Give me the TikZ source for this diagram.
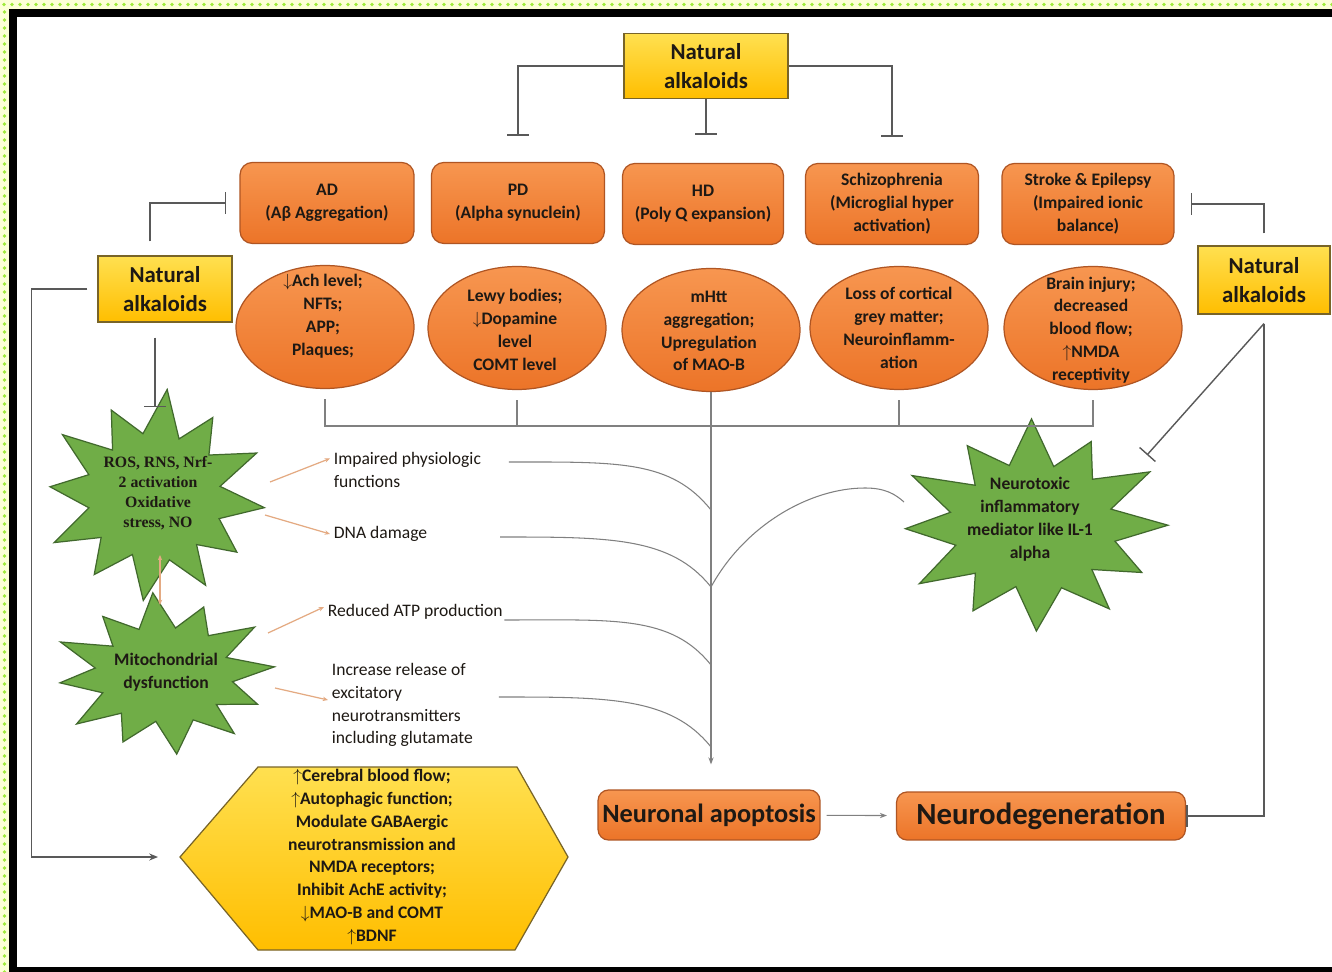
\documentclass[tikz,border=0pt]{standalone}
\usepackage{fontspec}
\setmainfont{Carlito}
\newfontfamily\timesfont{Liberation Serif}
\usetikzlibrary{arrows.meta,shapes.geometric}

\definecolor{orangefill}{RGB}{236,116,40}
\definecolor{orangelight}{RGB}{247,150,80}
\definecolor{orangeline}{RGB}{175,85,35}
\definecolor{goldfill}{RGB}{255,190,0}
\definecolor{goldlight}{RGB}{255,224,80}
\definecolor{goldline}{RGB}{120,100,40}
\definecolor{burstgreen}{RGB}{112,173,71}
\definecolor{burstline}{RGB}{65,105,45}
\definecolor{tanline}{RGB}{228,170,130}
\definecolor{textdark}{RGB}{30,25,20}
\definecolor{dotband}{RGB}{252,255,215}
\definecolor{dotgreen}{RGB}{160,235,60}

\tikzset{
  natbox/.style={draw=goldline, line width=0.7pt, top color=goldlight, bottom color=goldfill,
    align=center, font=\fontsize{13}{16.5}\selectfont\bfseries, text=textdark, inner sep=1pt},
  disbox/.style={rounded corners=7pt, draw=orangeline, line width=0.7pt, top color=orangelight,
    bottom color=orangefill, align=center, font=\fontsize{10}{13}\selectfont\bfseries,
    text=textdark, minimum height=1.62cm, inner sep=1pt},
  disell/.style={ellipse, draw=orangeline, line width=0.7pt, top color=orangelight,
    bottom color=orangefill, minimum width=3.56cm, minimum height=2.46cm, inner sep=0pt},
  elltext/.style={align=center, font=\fontsize{10}{13}\selectfont\bfseries, text=textdark},
  burstfill/.style={draw=burstline, line width=0.7pt, fill=burstgreen, line join=miter},
  bursttext/.style={align=center, font=\fontsize{10}{13}\selectfont\bfseries, text=textdark},
  effect/.style={align=left, font=\fontsize{10}{13}\selectfont, text=textdark, inner sep=2pt},
  bigbox/.style={rounded corners=6pt, draw=orangeline, line width=0.7pt, top color=orangelight,
    bottom color=orangefill, text=textdark, inner sep=1pt},
  hexfill/.style={draw=goldline, line width=0.7pt, top color=goldlight, bottom color=goldfill},
  link/.style={draw=black!65, line width=0.8pt},
  block/.style={link, -{Bar[width=12pt]}},
  thin/.style={draw=black!50, line width=0.6pt},
  tanline/.style={draw=tanline, line width=0.7pt},
  tanarrow/.style={tanline, -{Stealth[length=3pt,width=2.5pt]}},
  % twelve-spike explosion, radius about 100
  explosion/.pic={
    \draw[burstfill] (2:100) -- (16:62) -- (32:92) -- (47:60) -- (58:98) -- (74:63)
      -- (92:102) -- (106:60) -- (122:94) -- (137:63) -- (150:102) -- (166:61)
      -- (182:96) -- (196:64) -- (212:104) -- (226:60) -- (241:94) -- (256:63)
      -- (272:106) -- (287:61) -- (300:94) -- (316:64) -- (331:102) -- (346:60) -- cycle;
  },
}

\begin{document}
\begin{tikzpicture}[x=0.02cm, y=-0.02cm]
  % page with dotted edge and black frame
  \useasboundingbox (0,0) rectangle (1332,972);
  \fill[white] (0,0) rectangle (1332,972);
  \fill[dotband] (0,0) rectangle (1332,9);
  \fill[dotband] (0,0) rectangle (9,972);
  \foreach \i in {4,12,...,1332} \fill[dotgreen] (\i,4.5) circle (1.1pt);
  \foreach \j in {12,20,...,972} \fill[dotgreen] (4.5,\j) circle (1.1pt);
  \draw[line width=0.16cm] (13,13) rectangle (1350,971);

  % natural alkaloids boxes
  \node[natbox, minimum width=3.28cm, minimum height=1.3cm] (natTop) at (706,66) {Natural\\alkaloids};
  \node[natbox, minimum width=2.68cm, minimum height=1.32cm] (natLeft) at (165,289) {Natural\\alkaloids};
  \node[natbox, minimum width=2.64cm, minimum height=1.36cm] (natRight) at (1264,280) {Natural\\alkaloids};

  % disorders
  \node[disbox, minimum width=3.48cm] (ad) at (327,203) {AD\\(Aβ Aggregation)};
  \node[disbox, minimum width=3.46cm] (pd) at (518,203) {PD\\(Alpha synuclein)};
  \node[disbox, minimum width=3.22cm] (hd) at (703,204) {HD\\(Poly Q expansion)};
  \node[disbox, minimum width=3.46cm] (scz) at (892,204) {Schizophrenia\\(Microglial hyper\\activation)};
  \node[disbox, minimum width=3.44cm] (stroke) at (1088,204) {Stroke \& Epilepsy\\(Impaired ionic\\balance)};

  % pathology of each disorder
  \node[disell] (e1) at (325,327) {};
  \node[elltext] (e1t) at (323,316) {$\downarrow$Ach level;\\NFTs;\\APP;\\Plaques;};
  \node[disell] (e2) at (517,328) {};
  \node[elltext] (e2t) at (515,330) {Lewy bodies;\\$\downarrow$Dopamine\\level\\COMT level};
  \node[disell] (e3) at (711,330) {};
  \node[elltext] (e3t) at (709,331) {mHtt\\aggregation;\\Upregulation\\of MAO-B};
  \node[disell] (e4) at (899,328) {};
  \node[elltext] (e4t) at (899,328) {Loss of cortical\\grey matter;\\Neuroinflamm-\\ation};
  \node[disell] (e5) at (1093,328) {};
  \node[elltext] (e5t) at (1091,330) {Brain injury;\\decreased\\blood flow;\\$\uparrow$NMDA\\receptivity};

  % stress bursts
  \coordinate (ros) at (155,497);
  \pic[xscale=1.1, yscale=1.02, rotate=-4] at (ros) {explosion};
  \node[bursttext, font=\fontsize{9}{11.3}\selectfont\timesfont\bfseries] (rost) at (158,493) {ROS, RNS, Nrf-\\2 activation\\Oxidative\\stress, NO};
  \coordinate (mito) at (165,675);
  \pic[xscale=1.1, yscale=0.78, rotate=8] at (mito) {explosion};
  \node[bursttext] (mitot) at (166,672) {Mitochondrial\\dysfunction};
  \coordinate (neuro) at (1034,527);
  \pic[xscale=1.34, yscale=1.02, rotate=3] at (neuro) {explosion};
  \node[bursttext] (neurot) at (1030,519) {Neurotoxic\\inflammatory\\mediator like IL-1\\alpha};

  % downstream effects
  \node[effect, anchor=west] (impaired) at (330,470) {Impaired physiologic\\functions};
  \node[effect, anchor=west] (dna) at (330,534) {DNA damage};
  \node[effect, anchor=west] (atp) at (324,612) {Reduced ATP production};
  \node[effect, anchor=west] (glut) at (328,705) {Increase release of\\excitatory\\neurotransmitters\\including glutamate};

  % outcome
  \node[bigbox, minimum width=4.44cm, minimum height=1.0cm, font=\fontsize{15}{18}\selectfont\bfseries] (apop) at (709,815) {Neuronal apoptosis};
  \node[bigbox, minimum width=5.78cm, minimum height=0.96cm, font=\fontsize{17.5}{20}\selectfont\bfseries] (neurodeg) at (1041,816) {Neurodegeneration};

  % protective actions
  \draw[hexfill] (180,857) coordinate (hexL) -- (258,767) -- (517,767) -- (568,857) -- (515,950) -- (258,950) -- cycle;
  \node[elltext] (hex) at (372,857) {$\uparrow$Cerebral blood flow;\\$\uparrow$Autophagic function;\\Modulate GABAergic\\neurotransmission and\\NMDA receptors;\\Inhibit AchE activity;\\$\downarrow$MAO-B and COMT\\$\uparrow$BDNF};

  % inhibition by the alkaloids
  \draw[block, shorten >=0.52cm] (natTop.west) -| (pd.north);
  \draw[block, shorten >=0.56cm] (natTop.south) -- (natTop.south |- hd.north);
  \draw[block, shorten >=0.52cm] (natTop.east) -| (scz.north);
  \draw[block, shorten <=0.28cm, shorten >=0.26cm] ([xshift=-0.3cm]natLeft.north) |- (ad.west);
  \draw[block, shorten <=0.3cm, shorten >=1.8cm] ([xshift=-0.2cm]natLeft.south) -- ([xshift=-0.2cm]natLeft.south |- ros);
  \draw[block, shorten <=0.24cm, shorten >=0.32cm] (natRight.north) |- (stroke.east);
  \draw[block, shorten <=0.18cm] (natRight.south) |- (neurodeg.east);
  \draw[block] ([yshift=-0.18cm]natRight.south) -- ([shift={(113,-72)}]neuro);
  \draw[link, -{Stealth[length=5pt,width=4pt]}, shorten <=0.2cm, shorten >=0.44cm] (natLeft.west) -- ++(-66,0) |- (hexL);

  % pathology bracket and main pathway
  \coordinate (bar) at (0,426);
  \draw[thin, shorten <=0.2cm, shorten >=0.2cm] (e1.south) -- (e1.south |- bar) -- (e5.south |- bar) -- (e5.south);
  \draw[thin, shorten <=0.2cm] (e2.south) -- (e2.south |- bar);
  \draw[thin, shorten <=0.2cm] (e4.south) -- (e4.south |- bar);
  \draw[thin, -{Stealth[length=4pt,width=3pt]}, shorten >=0.5cm] (e3.south) -- (e3.south |- apop.north);
  \draw[thin, -{Stealth[length=4pt,width=3pt]}, shorten <=0.12cm, shorten >=0.18cm] (apop) -- (neurodeg);

  \coordinate (j1) at (711,510);
  \coordinate (j2) at (711,587);
  \coordinate (j3) at (711,665);
  \coordinate (j4) at (711,747);
  \draw[thin] ([shift={(24,-8)}]impaired.east) .. controls +(110,0) and +(-40,-50) .. (j1);
  \draw[thin] ([shift={(170,3)}]dna.west) .. controls +(110,0) and +(-40,-50) .. (j2);
  \draw[thin] ([shift={(-2,8)}]atp.east) .. controls +(110,0) and +(-40,-50) .. (j3);
  \draw[thin] ([shift={(22,-8)}]glut.east) .. controls +(110,0) and +(-40,-50) .. (j4);
  \draw[thin] (j2) .. controls (745,525) and (810,488) .. (865,488) .. controls (885,488) and (895,494) .. ([shift={(-130,-25)}]neuro);

  % stress links
  \draw[tanarrow] ([shift={(115,-15)}]ros) -- ([yshift=0.23cm]impaired.west);
  \draw[tanarrow] ([shift={(110,18)}]ros) -- (dna.west);
  \draw[tanarrow] ([shift={(103,-42)}]mito) -- ([yshift=0.1cm]atp.west);
  \draw[tanarrow] ([shift={(110,13)}]mito) -- ([yshift=0.1cm]glut.west);
  \draw[tanline, {Stealth[length=3pt,width=2.5pt]}-{Stealth[length=3pt,width=2.5pt]}] ([shift={(5,58)}]ros) -- ([shift={(-5,-70)}]mito);
\end{tikzpicture}
\end{document}
